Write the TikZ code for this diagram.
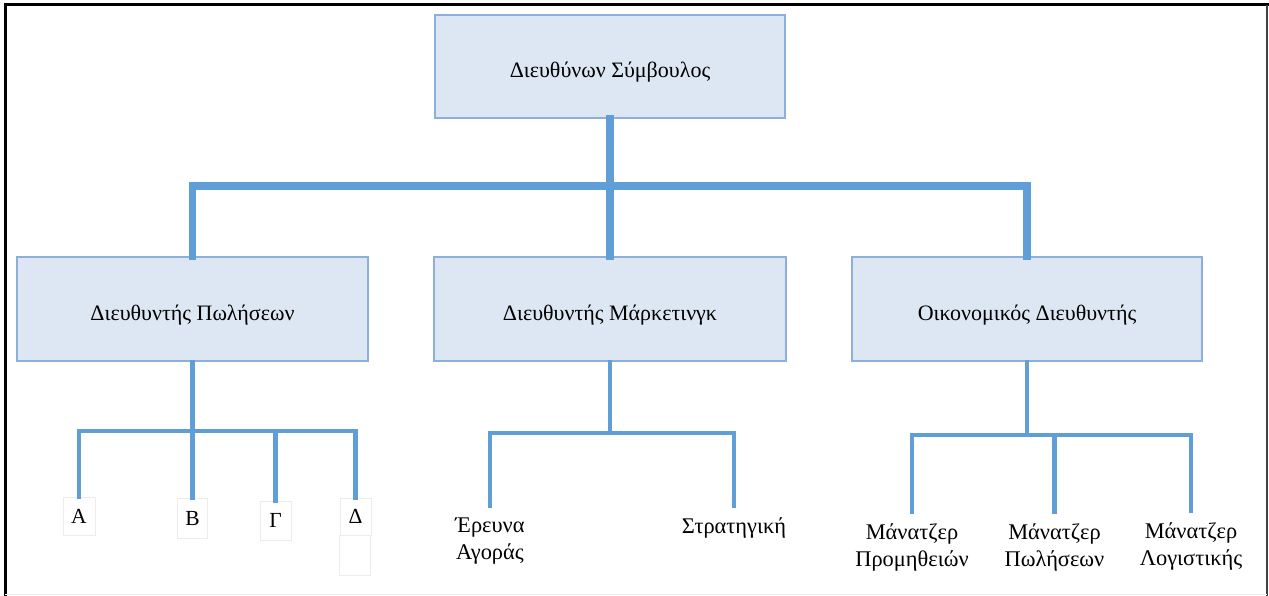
\documentclass[tikz,border=0pt]{standalone}
\usepackage{fontspec}
\setmainfont{Liberation Serif}
\definecolor{boxfill}{RGB}{221,231,243}
\definecolor{boxline}{RGB}{140,175,220}
\definecolor{linkblue}{RGB}{96,158,216}
\definecolor{faint}{RGB}{236,236,236}
% box captions sit a little below the box centre
\newcommand{\boxcaption}[1]{\raisebox{-11pt}[0pt][0pt]{#1}}
\tikzset{
  unitbox/.style={draw=boxline, line width=1.2pt, fill=boxfill, inner sep=0pt,
    font=\fontsize{22}{26}\selectfont},
  trunk/.style={draw=linkblue, line width=7.5pt, line join=miter, line cap=rect},
  branch/.style={draw=linkblue, line width=4.2pt, line join=miter, line cap=rect},
  letterbox/.style={draw=faint, line width=0.8pt, fill=white, inner sep=0pt,
    font=\fontsize{21.5}{24}\selectfont},
  leaf/.style={align=center, inner xsep=0pt, inner ysep=12pt, anchor=north,
    font=\fontsize{22.4}{26.5}\selectfont},
}
\begin{document}
\begin{tikzpicture}[x=1pt, y=-1pt]
  \useasboundingbox (0,0) rectangle (1269,596);
  \fill[white] (0,0) rectangle (1269,596);

  % outer frame
  \draw[line width=3pt, black] (5.3,596) -- (5.3,4.8) -- (1269,4.8);
  \draw[line width=1.8pt, black!75] (1267.2,4.8) -- (1267.2,596);
  \draw[line width=0.8pt, black!8] (5.3,594.5) -- (1267.2,594.5);

  % management boxes
  \node[unitbox, minimum width=350pt, minimum height=103pt] (ceo) at (610,66.5) {\boxcaption{Διευθύνων Σύμβουλος}};
  \node[unitbox, minimum width=351pt, minimum height=104pt] (sales) at (192.5,309) {\boxcaption{Διευθυντής Πωλήσεων}};
  \node[unitbox, minimum width=352pt, minimum height=104pt] (mkt) at (610,309) {\boxcaption{Διευθυντής Μάρκετινγκ}};
  \node[unitbox, minimum width=350pt, minimum height=104pt] (fin) at (1027,309) {\boxcaption{Οικονομικός Διευθυντής}};

  % first level connectors
  \coordinate (hub) at (610,186);
  \draw[trunk] (ceo.south) -- (ceo.south |- hub);
  \draw[trunk] (sales.north) |- (hub) -| (fin.north);
  \draw[trunk] (hub) -- (mkt.north);

  % sales regions
  \node[letterbox, minimum width=32pt, minimum height=38pt] (ra) at (79,516) {Α};
  \node[letterbox, minimum width=30pt, minimum height=40pt] (rb) at (192.5,518) {Β};
  \node[letterbox, minimum width=31pt, minimum height=39pt] (rg) at (275.5,520.5) {Γ};
  \node[letterbox, minimum width=31pt, minimum height=37pt] (rd) at (355.5,516.5) {Δ};
  \draw[faint, line width=0.8pt] (rd.south west) rectangle ++(31,40);
  \coordinate (shub) at (192.5,431);
  \draw[branch] (sales.south) -- (rb.north);
  \draw[branch] (ra.north) |- (shub) -| (rd.north);
  \draw[branch] (rg.north) -- (rg.north |- shub);

  % marketing units
  \node[leaf] (research) at (490,506) {Έρευνα\\Αγοράς};
  \node[leaf] (strategy) at (734,506) {Στρατηγική};
  \coordinate (mhub) at (610,433);
  \draw[branch] (mkt.south) -- (mhub);
  \draw[branch] (research.north) |- (mhub) -| (strategy.north);

  % finance managers
  \node[leaf] (supply) at (912,512) {Μάνατζερ\\Προμηθειών};
  \node[leaf] (salesmgr) at (1054.5,512) {Μάνατζερ\\Πωλήσεων};
  \node[leaf] (account) at (1191,511) {Μάνατζερ\\Λογιστικής};
  \coordinate (fhub) at (1027,435);
  \draw[branch] (fin.south) -- (fhub);
  \draw[branch] (supply.north) |- (fhub) -| (account.north);
  \draw[branch] (salesmgr.north) -- (salesmgr.north |- fhub);
\end{tikzpicture}
\end{document}
